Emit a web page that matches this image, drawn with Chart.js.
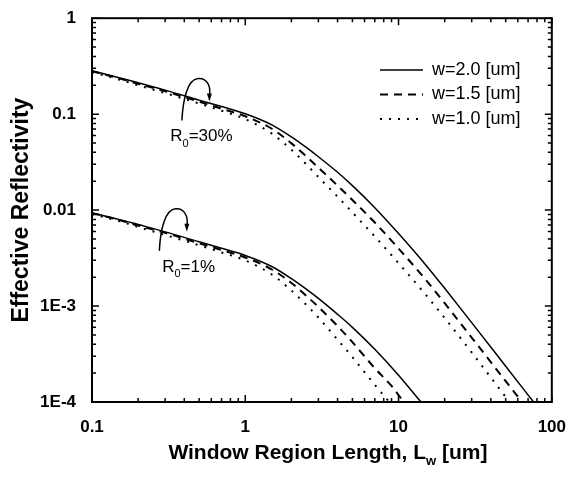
<!DOCTYPE html>
<html>
<head>
<meta charset="utf-8">
<title>Effective Reflectivity</title>
<script src="https://cdn.jsdelivr.net/npm/chart.js@4.4.1/dist/chart.umd.min.js"></script>
<style>
  html, body { margin: 0; padding: 0; background: #fff; }
  #wrap { width: 573px; height: 479px; }
</style>
</head>
<body>
<div id="wrap"><canvas id="chart" width="573" height="479"></canvas></div>
<script>
const FONT = "'Liberation Sans', Arial, Helvetica, sans-serif"

// Axis decades and their labels
const xTickValues = [0.1, 1, 10, 100]
const xTickLabels = ["0.1", "1", "10", "100"]
const yTickValues = [1e-4, 1e-3, 0.01, 0.1, 1]
const yTickLabels = ["1E-4", "1E-3", "0.01", "0.1", "1"]

const widthLabels = ["w=2.0 [um]", "w=1.5 [um]", "w=1.0 [um]"]

// R0 = 30% : window length Lw [um] -> effective reflectivity
const lw30Solid = [0.1, 0.15, 0.2, 0.3, 0.5, 0.7, 1, 1.5, 2, 2.5, 3, 4, 5, 7, 10, 15, 20, 30, 50, 76]
const rw30Solid = [0.283, 0.240, 0.212, 0.178, 0.140, 0.120, 0.101, 0.077, 0.058, 0.045, 0.036, 0.0248, 0.0180, 0.0106, 0.0057, 0.0027, 0.00153, 0.000672, 0.000236, 0.0001]
const lw30Dash = [0.1, 0.15, 0.2, 0.3, 0.5, 0.7, 1, 1.5, 2, 2.5, 3, 4, 5, 7, 10, 15, 20, 30, 50, 64]
const rw30Dash = [0.280, 0.236, 0.207, 0.173, 0.135, 0.114, 0.0951, 0.0700, 0.0496, 0.0363, 0.0277, 0.0180, 0.01274, 0.00742, 0.00398, 0.00189, 0.00107, 0.00047, 0.000165, 0.0001]
const lw30Dot = [0.1, 0.15, 0.2, 0.3, 0.5, 0.7, 1, 1.5, 2, 2.5, 3, 4, 5, 7, 10, 15, 20, 30, 40, 53]
const rw30Dot = [0.273, 0.230, 0.200, 0.166, 0.129, 0.1086, 0.0886, 0.0622, 0.0425, 0.0300, 0.0221, 0.01382, 0.00945, 0.00531, 0.0028, 0.00132, 0.00075, 0.000329, 0.000180, 0.0001]

// R0 = 1%
const lw1Solid = [0.1, 0.15, 0.2, 0.3, 0.5, 0.7, 1, 1.5, 2, 2.5, 3, 4, 5, 7, 10, 14]
const rw1Solid = [0.0094, 0.0080, 0.00707, 0.00593, 0.00467, 0.0040, 0.00337, 0.00257, 0.00193, 0.0015, 0.0012, 0.00082, 0.0006, 0.000354, 0.00019, 0.0001]
const lw1Dash = [0.1, 0.15, 0.2, 0.3, 0.5, 0.7, 1, 1.5, 2, 2.5, 3, 4, 5, 7, 9, 10.8]
const rw1Dash = [0.0093, 0.0079, 0.0069, 0.0058, 0.0045, 0.00384, 0.00321, 0.00239, 0.00174, 0.00128, 0.00098, 0.00062, 0.00042, 0.000225, 0.000147, 0.0001]
const lw1Dot = [0.1, 0.15, 0.2, 0.3, 0.5, 0.7, 1, 1.5, 2, 2.5, 3, 4, 5, 7, 8.7]
const rw1Dot = [0.0091, 0.0077, 0.00666, 0.0055, 0.0043, 0.00362, 0.00299, 0.00212, 0.00145, 0.00103, 0.00076, 0.000445, 0.000294, 0.000151, 0.0001]

// solid / dashed / dotted, one per stripe width
const lineStyles = [
  { borderWidth: 1.5, borderDash: [] },
  { borderWidth: 2, borderDash: [8, 6] },
  { borderWidth: 2, borderDash: [2, 7] },
]

const series = [
  [lw30Solid, rw30Solid, 0],
  [lw30Dash, rw30Dash, 1],
  [lw30Dot, rw30Dot, 2],
  [lw1Solid, rw1Solid, 0],
  [lw1Dash, rw1Dash, 1],
  [lw1Dot, rw1Dot, 2],
]

const datasets = series.map(([xs, ys, k]) => ({
  label: widthLabels[k],
  data: xs.map((x, i) => ({ x, y: ys[i] })),
  borderColor: "#000",
  backgroundColor: "#000",
  borderWidth: lineStyles[k].borderWidth,
  borderDash: lineStyles[k].borderDash,
  pointRadius: 0,
  cubicInterpolationMode: "monotone",
  fill: false,
}))

// 1..9 x 10^n positions between min and max
function logSteps(min, max) {
  const out = []
  for (let d = min; d < max * 1.001; d *= 10) {
    for (let m = 1; m <= 9; m++) {
      const v = m * d
      if (v > max * 1.001) break
      out.push({ v, major: m === 1 })
    }
  }
  return out
}

// box around the plot with inward ticks on all four sides
const framePlugin = {
  id: "frame",
  afterDatasetsDraw(chart) {
    const { ctx, chartArea: a, scales } = chart
    ctx.save()
    ctx.strokeStyle = "#000"
    ctx.lineWidth = 1.5
    ctx.beginPath()
    for (const t of logSteps(0.1, 100)) {
      const px = scales.x.getPixelForValue(t.v)
      const len = t.major ? 7 : 4
      ctx.moveTo(px, a.bottom)
      ctx.lineTo(px, a.bottom - len)
      ctx.moveTo(px, a.top)
      ctx.lineTo(px, a.top + len)
    }
    for (const t of logSteps(1e-4, 1)) {
      const py = scales.y.getPixelForValue(t.v)
      const len = t.major ? 7 : 4
      ctx.moveTo(a.left, py)
      ctx.lineTo(a.left + len, py)
      ctx.moveTo(a.right, py)
      ctx.lineTo(a.right - len, py)
    }
    ctx.stroke()
    ctx.lineWidth = 2
    ctx.strokeRect(a.left, a.top, a.right - a.left, a.bottom - a.top)
    ctx.restore()
  },
}

// text with a lowered, smaller subscript piece
function drawSubText(ctx, parts, x, y, size, weight) {
  let cx = x
  for (const [txt, sub] of parts) {
    ctx.font = `${weight} ${sub ? Math.round(size * 0.62) : size}px ${FONT}`
    ctx.fillText(txt, cx, sub ? y + size * 0.3 : y)
    cx += ctx.measureText(txt).width
  }
  return cx - x
}

function measureSubText(ctx, parts, size, weight) {
  let w = 0
  for (const [txt, sub] of parts) {
    ctx.font = `${weight} ${sub ? Math.round(size * 0.62) : size}px ${FONT}`
    w += ctx.measureText(txt).width
  }
  return w
}

// curved arrows with R0 labels, anchored in data coordinates
const notes = [
  { hook: [0.386, 0.0857], label: [0.324, 0.0519], value: "=30%" },
  { hook: [0.275, 0.00376], label: [0.287, 0.00228], value: "=1%" },
]

const notePlugin = {
  id: "notes",
  afterDraw(chart) {
    const { ctx, scales } = chart
    ctx.save()
    ctx.strokeStyle = "#000"
    ctx.fillStyle = "#000"
    ctx.lineWidth = 1.5
    ctx.textBaseline = "alphabetic"
    ctx.textAlign = "left"
    for (const n of notes) {
      const px = scales.x.getPixelForValue(n.hook[0])
      const py = scales.y.getPixelForValue(n.hook[1])
      ctx.beginPath()
      ctx.moveTo(px, py)
      ctx.bezierCurveTo(px + 1, py - 22, px + 6, py - 41, px + 16, py - 42)
      ctx.bezierCurveTo(px + 26, py - 43, px + 29, py - 33, px + 27.5, py - 25)
      ctx.stroke()
      ctx.beginPath()
      ctx.moveTo(px + 27.5, py - 19)
      ctx.lineTo(px + 25, py - 27)
      ctx.lineTo(px + 30, py - 27)
      ctx.closePath()
      ctx.fill()

      const lx = scales.x.getPixelForValue(n.label[0])
      const ly = scales.y.getPixelForValue(n.label[1])
      drawSubText(ctx, [["R", false], ["0", true], [n.value, false]], lx, ly, 17, "normal")
    }
    ctx.restore()
  },
}

// legend with line samples, and the x-axis title with its subscript
const legendPlugin = {
  id: "widthLegend",
  afterDraw(chart) {
    const { ctx, chartArea: a } = chart
    ctx.save()
    ctx.fillStyle = "#000"
    ctx.strokeStyle = "#000"
    ctx.textAlign = "left"
    ctx.textBaseline = "middle"
    widthLabels.forEach((label, k) => {
      const ds = chart.data.datasets[k]
      const y = 70 + k * 24.5
      ctx.lineWidth = ds.borderWidth
      ctx.setLineDash(ds.borderDash)
      ctx.beginPath()
      ctx.moveTo(380, y)
      ctx.lineTo(423, y)
      ctx.stroke()
      ctx.setLineDash([])
      ctx.font = `18px ${FONT}`
      ctx.fillText(label, 432, y)
    })

    const title = [["Window Region Length, L", false], ["w", true], [" [um]", false]]
    ctx.textBaseline = "alphabetic"
    const tw = measureSubText(ctx, title, 21, "bold")
    const cx = (a.left + a.right) / 2 + 6
    drawSubText(ctx, title, cx - tw / 2, 459, 21, "bold")
    ctx.restore()
  },
}

const tickFont = { family: FONT, size: 17, weight: "bold" }

new Chart(document.getElementById("chart"), {
  type: "line",
  data: { datasets },
  options: {
    responsive: false,
    animation: false,
    events: [],
    layout: { padding: { top: 16, right: 15, left: 0, bottom: 0 } },
    plugins: {
      legend: { display: false },
      tooltip: { enabled: false },
    },
    scales: {
      x: {
        type: "logarithmic",
        min: 0.1,
        max: 100,
        grid: { display: false },
        border: { display: false },
        afterBuildTicks: (scale) => {
          scale.ticks = xTickValues.map((v) => ({ value: v }))
        },
        afterFit: (scale) => {
          scale.height = 77
        },
        ticks: {
          autoSkip: false,
          maxRotation: 0,
          padding: 7,
          color: "#000",
          font: tickFont,
          callback: (v, i) => xTickLabels[i],
        },
      },
      y: {
        type: "logarithmic",
        min: 1e-4,
        max: 1,
        grid: { display: false },
        border: { display: false },
        afterBuildTicks: (scale) => {
          scale.ticks = yTickValues.map((v) => ({ value: v }))
        },
        afterFit: (scale) => {
          scale.width = 92
        },
        ticks: {
          autoSkip: false,
          padding: 8,
          color: "#000",
          font: tickFont,
          callback: (v, i) => yTickLabels[i],
        },
        title: {
          display: true,
          text: "Effective Reflectivity",
          color: "#000",
          font: { family: FONT, size: 23, weight: "bold" },
          padding: { top: 8, bottom: 0 },
        },
      },
    },
  },
  plugins: [framePlugin, notePlugin, legendPlugin],
})
</script>
</body>
</html>
